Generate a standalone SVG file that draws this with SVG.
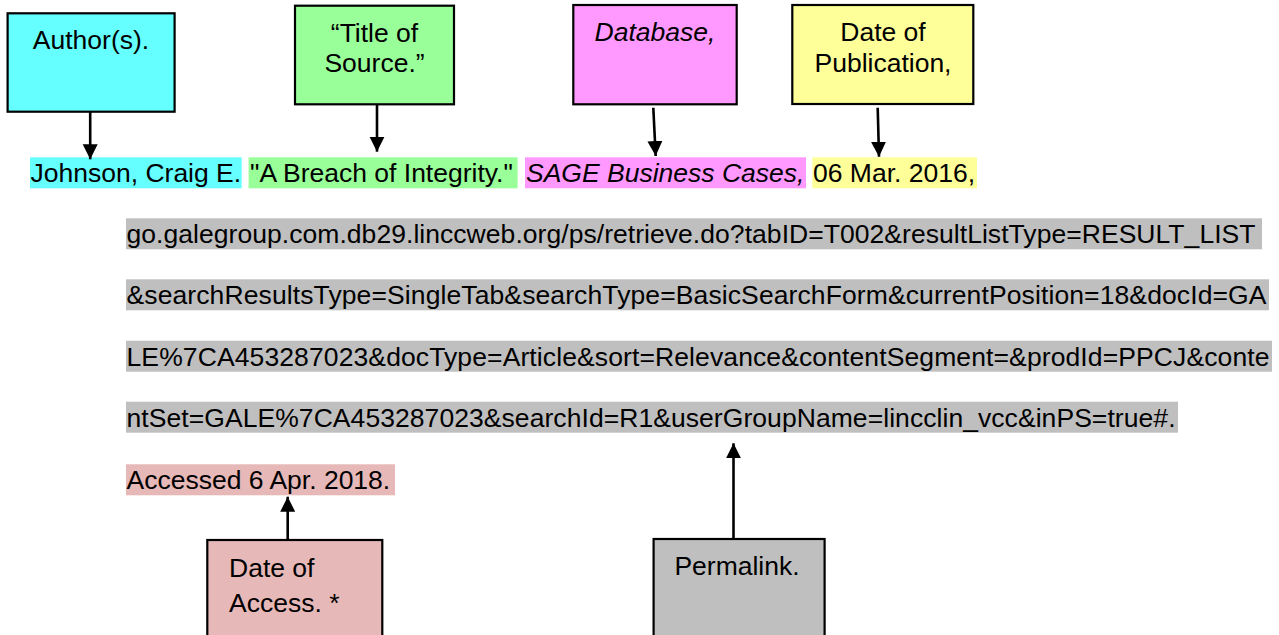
<svg xmlns="http://www.w3.org/2000/svg" width="1279" height="635" viewBox="0 0 1279 635">
<style>
text { font-family: "Liberation Sans", Arial, sans-serif; font-size: 26.5px; fill: #000; }
.it { font-style: italic; }
.box { stroke: #000; stroke-width: 2.2; }
.conn { stroke: #000; stroke-width: 2.6; fill: none; marker-end: url(#arrow); }
.cyan { fill: #66FFFF; }
.green { fill: #99FF99; }
.mag { fill: #FF99FF; }
.yel { fill: #FFFF99; }
.pink { fill: #E6B8B7; }
.gray { fill: #BFBFBF; }
</style>
<defs>
<marker id="arrow" markerUnits="userSpaceOnUse" markerWidth="16" markerHeight="16" refX="15" refY="8" orient="auto">
<path d="M0,0.5 L15,8 L0,15.5 z" fill="#000"/>
</marker>
</defs>
<rect width="1279" height="635" fill="#fff"/>

<g id="node-author">
<rect class="box cyan" x="7.6" y="13.3" width="167" height="98.4"/>
<text x="91" y="49.3" text-anchor="middle">Author(s).</text>
</g>
<g id="node-title">
<rect class="box green" x="295" y="5.7" width="159" height="98.6"/>
<text x="374.5" y="41.7" text-anchor="middle">“Title of</text>
<text x="374.5" y="71.7" text-anchor="middle">Source.”</text>
</g>
<g id="node-database">
<rect class="box mag" x="573.3" y="5" width="163.4" height="99.3"/>
<text class="it" x="655" y="41" text-anchor="middle">Database,</text>
</g>
<g id="node-datepub">
<rect class="box yel" x="792.3" y="5" width="181" height="99"/>
<text x="883" y="40.7" text-anchor="middle">Date of</text>
<text x="883" y="71.7" text-anchor="middle">Publication,</text>
</g>
<g id="node-access">
<rect class="box pink" x="207.3" y="540" width="175" height="110"/>
<text x="229" y="577.3">Date of</text>
<text x="229" y="612.3">Access. *</text>
</g>
<g id="node-permalink">
<rect class="box gray" x="653.6" y="539" width="171" height="110"/>
<text x="674.4" y="575">Permalink.</text>
</g>

<g id="citation">
<g id="cite-author">
<rect class="cyan" x="30" y="157.3" width="211.7" height="31"/>
<text x="30.5" y="182.3">Johnson, Craig E.</text>
</g>
<g id="cite-title">
<rect class="green" x="248.6" y="157.3" width="269" height="31"/>
<text x="250" y="182.3">"A Breach of Integrity."</text>
</g>
<g id="cite-database">
<rect class="mag" x="525" y="157.3" width="281" height="31"/>
<text class="it" x="526" y="182.3">SAGE Business Cases,</text>
</g>
<g id="cite-date">
<rect class="yel" x="812.3" y="157.3" width="164.7" height="31"/>
<text x="813" y="182.3">06 Mar. 2016,</text>
</g>
<g id="cite-permalink">
<rect class="gray" x="126" y="218.3" width="1136" height="31"/>
<rect class="gray" x="126" y="279.3" width="1143" height="31"/>
<rect class="gray" x="126" y="340.7" width="1146" height="31"/>
<rect class="gray" x="126" y="401.7" width="1052" height="31"/>
<text x="126.5" y="243.3" textLength="1129" lengthAdjust="spacing">go.galegroup.com.db29.linccweb.org/ps/retrieve.do?tabID=T002&amp;resultListType=RESULT_LIST</text>
<text x="126.5" y="304.3" textLength="1140" lengthAdjust="spacing">&amp;searchResultsType=SingleTab&amp;searchType=BasicSearchForm&amp;currentPosition=18&amp;docId=GA</text>
<text x="126.5" y="365.7" textLength="1143" lengthAdjust="spacing">LE%7CA453287023&amp;docType=Article&amp;sort=Relevance&amp;contentSegment=&amp;prodId=PPCJ&amp;conte</text>
<text x="126.5" y="426.7" textLength="1049" lengthAdjust="spacing">ntSet=GALE%7CA453287023&amp;searchId=R1&amp;userGroupName=lincclin_vcc&amp;inPS=true#.</text>
</g>
<g id="cite-accessed">
<rect class="pink" x="126" y="464.3" width="269" height="31"/>
<text x="126.5" y="489">Accessed 6 Apr. 2018.</text>
</g>
</g>

<g id="connectors">
<line class="conn" x1="90.2" y1="112" x2="90.2" y2="159.3"/>
<line class="conn" x1="377" y1="104.3" x2="377" y2="151.7"/>
<line class="conn" x1="653.3" y1="107.7" x2="655.7" y2="156"/>
<line class="conn" x1="877.7" y1="107.7" x2="879" y2="156.7"/>
<line class="conn" x1="287.7" y1="540" x2="287.7" y2="496.7"/>
<line class="conn" x1="733.5" y1="539" x2="733.5" y2="443.3"/>
</g>
</svg>
